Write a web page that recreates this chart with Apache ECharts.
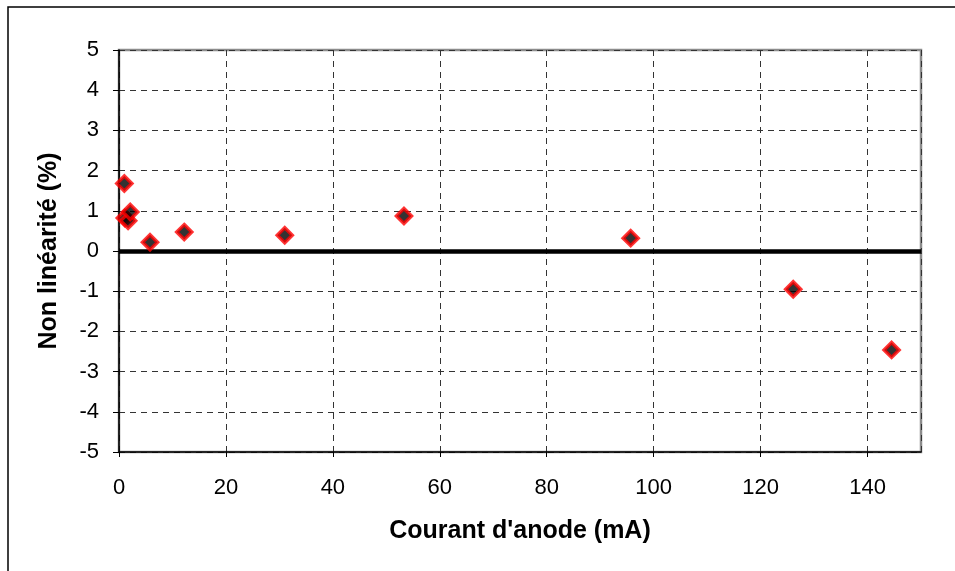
<!DOCTYPE html>
<html><head><meta charset="utf-8">
<script src="https://cdn.jsdelivr.net/npm/echarts@6/dist/echarts.min.js"></script>
<style>html,body{margin:0;padding:0;background:#fff}#c{width:955px;height:571px}</style>
</head><body><div id="c"></div>
<script>
const xValues = [1.0, 1.1, 1.7, 2.1, 5.8, 12.2, 31.0, 53.3, 95.7, 126.1, 144.5];
const yValues = [1.68, 0.82, 0.75, 0.97, 0.22, 0.47, 0.39, 0.87, 0.32, -0.95, -2.46];
const xTitle = "Courant d'anode (mA)";
const yTitle = "Non linéarité (%)";

const chart = echarts.init(document.getElementById('c'), null, {renderer: 'canvas'});
const font = 'Liberation Sans, Arial, sans-serif';
chart.setOption({
  animation: false,
  backgroundColor: '#fff',
  graphic: [{type: 'rect', shape: {x: 8, y: 7, width: 1000, height: 700}, style: {fill: 'none', stroke: '#000', lineWidth: 1.5}, z: 100}],
  grid: {left: 119, right: 34, top: 50, bottom: 119, show: true, borderColor: '#8c8c8c', borderWidth: 2.5, backgroundColor: '#fff'},
  xAxis: {
    type: 'value', min: 0, max: 150, interval: 20,
    name: xTitle, nameLocation: 'middle', nameGap: 67,
    nameTextStyle: {fontFamily: font, fontSize: 25, fontWeight: 'bold', color: '#000'},
    axisLine: {show: true, onZero: false, lineStyle: {color: '#000', width: 1.5}},
    axisTick: {show: true, length: 5, lineStyle: {color: '#000'}},
    axisLabel: {fontFamily: font, fontSize: 22, color: '#000', margin: 25, showMaxLabel: false},
    splitLine: {show: true, lineStyle: {color: '#333', type: [6, 5], width: 1}}
  },
  yAxis: {
    type: 'value', min: -5, max: 5, interval: 1,
    name: yTitle, nameLocation: 'middle', nameGap: 57,
    nameTextStyle: {fontFamily: font, fontSize: 25, fontWeight: 'bold', color: '#000'},
    axisLine: {show: true, lineStyle: {color: '#000', width: 1.5}},
    axisTick: {show: true, length: 6, lineStyle: {color: '#000'}},
    axisLabel: {fontFamily: font, fontSize: 22, color: '#000', margin: 20},
    splitLine: {show: true, lineStyle: {color: '#333', type: [6, 5], width: 1}}
  },
  series: [{
    type: 'scatter',
    data: xValues.map((x, i) => [x, yValues[i]]),
    symbol: 'diamond', symbolSize: 15,
    itemStyle: {color: '#000', borderColor: '#ff0000', borderWidth: 3.5},
    z: 5,
    markLine: {
      silent: true, symbol: 'none', label: {show: false},
      lineStyle: {color: '#000', width: 4.5, type: 'solid'},
      data: [{yAxis: 0}],
      z: 3
    }
  }]
});
</script></body></html>
